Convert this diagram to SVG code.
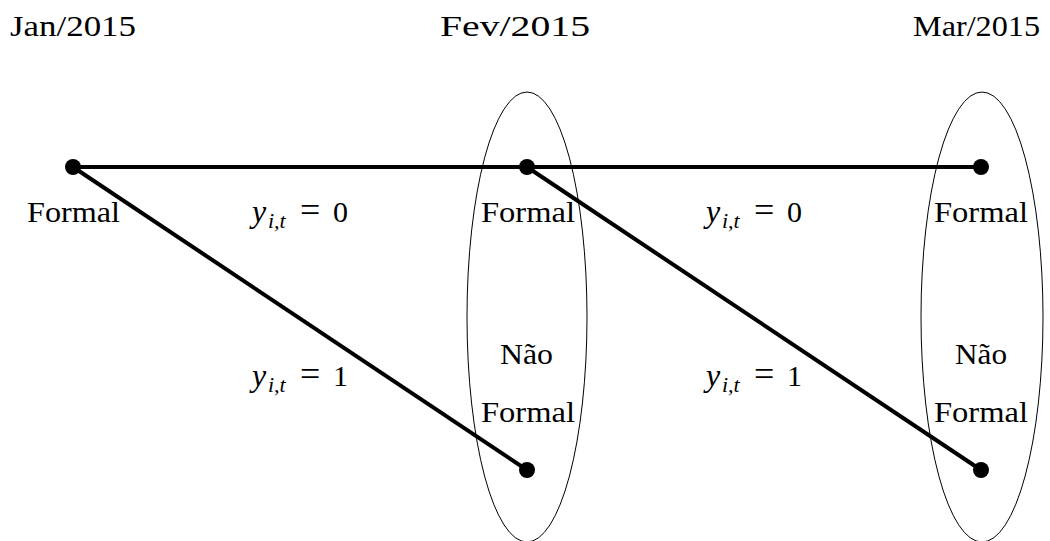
<svg xmlns="http://www.w3.org/2000/svg" width="1050" height="541" viewBox="0 0 1050 541">
<style>
text{font-family:"Liberation Serif","DejaVu Serif",serif;font-size:30px;fill:#000}
.m{font-style:italic;font-size:32px}
.s{font-style:italic;font-size:22px}
.eq{font-size:36px}
.edge{stroke:#000;stroke-width:4;fill:none}
.ell{stroke:#000;stroke-width:1;fill:none}
</style>
<g id="headers">
<text x="10" y="36" textLength="126" lengthAdjust="spacingAndGlyphs">Jan/2015</text>
<text x="440" y="36" textLength="150" lengthAdjust="spacingAndGlyphs">Fev/2015</text>
<text x="913" y="36" textLength="127" lengthAdjust="spacingAndGlyphs">Mar/2015</text>
</g>
<g id="ellipses">
<ellipse class="ell" cx="527" cy="317" rx="60" ry="225"/>
<ellipse class="ell" cx="982" cy="317" rx="61" ry="225"/>
</g>
<g id="connectors">
<line class="edge" x1="73" y1="167" x2="981" y2="167"/>
<line class="edge" x1="73" y1="167" x2="527" y2="470"/>
<line class="edge" x1="527" y1="167" x2="981" y2="470"/>
</g>
<g id="n-jan"><circle cx="73" cy="167" r="8"/><text x="27" y="222" textLength="93" lengthAdjust="spacingAndGlyphs">Formal</text></g>
<g id="n-fev-formal"><circle cx="527" cy="167" r="8"/><text x="481" y="222" textLength="94" lengthAdjust="spacingAndGlyphs">Formal</text></g>
<g id="n-mar-formal"><circle cx="981" cy="167" r="8"/><text x="934" y="222" textLength="94" lengthAdjust="spacingAndGlyphs">Formal</text></g>
<g id="n-fev-nao"><circle cx="527" cy="470" r="8"/><text x="500" y="364" textLength="53" lengthAdjust="spacingAndGlyphs">Não</text><text x="481" y="422" textLength="94" lengthAdjust="spacingAndGlyphs">Formal</text></g>
<g id="n-mar-nao"><circle cx="981" cy="470" r="8"/><text x="955" y="364" textLength="52" lengthAdjust="spacingAndGlyphs">Não</text><text x="934" y="422" textLength="94" lengthAdjust="spacingAndGlyphs">Formal</text></g>
<g id="labels">
<text y="222"><tspan class="m" x="252">y</tspan><tspan class="s" x="268" dy="6">i,t</tspan><tspan class="eq" x="300" dy="-6">=</tspan><tspan x="333">0</tspan></text>
<text y="222"><tspan class="m" x="706">y</tspan><tspan class="s" x="722" dy="6">i,t</tspan><tspan class="eq" x="754" dy="-6">=</tspan><tspan x="787">0</tspan></text>
<text y="386"><tspan class="m" x="252">y</tspan><tspan class="s" x="268" dy="6">i,t</tspan><tspan class="eq" x="300" dy="-6">=</tspan><tspan x="333">1</tspan></text>
<text y="386"><tspan class="m" x="706">y</tspan><tspan class="s" x="722" dy="6">i,t</tspan><tspan class="eq" x="754" dy="-6">=</tspan><tspan x="787">1</tspan></text>
</g>
</svg>
